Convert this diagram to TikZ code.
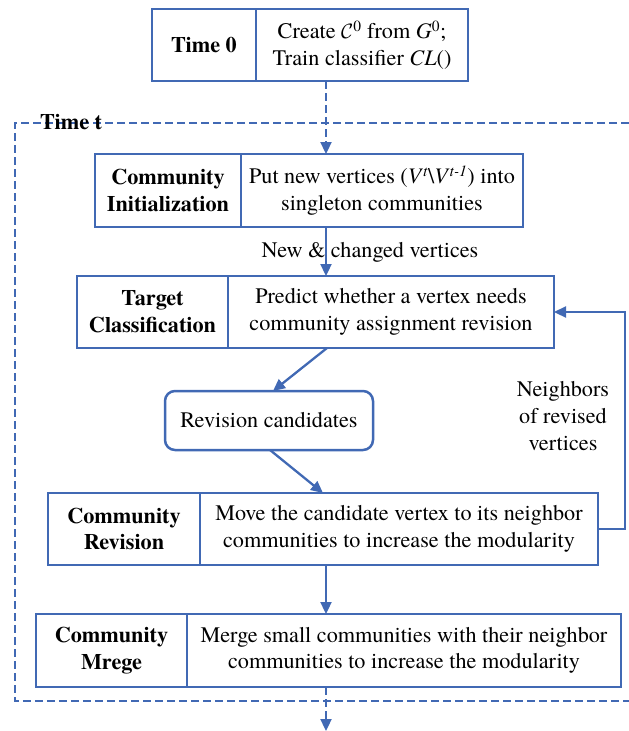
\documentclass[tikz,border=0pt]{standalone}
\usepackage{fontspec}
\setmainfont{TeX Gyre Termes}
\usetikzlibrary{arrows.meta}
\definecolor{fblue}{RGB}{65,105,180}
\begin{document}
\begin{tikzpicture}[x=1pt,y=-1pt,
  font=\fontsize{22.2}{26.6}\selectfont,
  cell/.style={draw=fblue, line width=2.5pt, inner sep=0pt, outer sep=0pt, align=center, minimum height=72pt},
  hcell/.style={cell, font=\fontsize{22.2}{26.6}\selectfont\bfseries},
  conn/.style={draw=fblue, line width=2.3pt, -{Triangle[length=12pt,width=11pt]}},
  dconn/.style={conn, dash pattern=on 8pt off 4pt},
  frame/.style={draw=fblue, line width=2.2pt, dash pattern=on 8pt off 4pt}]
\useasboundingbox (0,0) rectangle (629,731);

% dashed frame
\coordinate (ftr) at (629,123);
\coordinate (ftl) at (15,123);
\coordinate (fbl) at (15,701);
\coordinate (fbr) at (629,701);
\draw[frame] (ftr) -- (ftl) -- (fbl) -- (fbr);
\node[anchor=base west, inner sep=0pt, font=\fontsize{22.2}{26.6}\selectfont\bfseries] (tt) at (40,129) {Time t};

% Time 0
\node[hcell, minimum width=104pt] (t0l) at (204,45) {Time 0};
\node[cell, minimum width=212pt] (t0r) at (362,45) {Create $\mathcal{C}$\textsuperscript{0} from \textit{G}\textsuperscript{0};\\Train classifier \textit{CL}()};

% Community Initialization
\node[hcell, minimum width=146pt, minimum height=73pt] (cil) at (168,190.5) {Community\\Initialization};
\node[cell, minimum width=282pt, minimum height=73pt] (cir) at (382,190.5) {Put new vertices (\textit{V}\textsuperscript{\textit{t}}\textbackslash\textit{V}\textsuperscript{\textit{t-1}}) into\\singleton communities};

% Target Classification
\node[hcell, minimum width=151pt] (tcl) at (152.5,312) {Target\\Classification};
\node[cell, minimum width=326pt] (tcr) at (391,312) {Predict whether a vertex needs\\community assignment revision};

% Revision candidates
\node[cell, rounded corners=10pt, minimum width=208pt, minimum height=59pt] (rc) at (269,420.5) {Revision candidates};

% Community Revision
\node[hcell, minimum width=152pt] (crl) at (124,529) {Community\\Revision};
\node[cell, minimum width=398pt] (crr) at (399,529) {Move the candidate vertex to its neighbor\\communities to increase the modularity};

% Community Merge
\node[hcell, minimum width=151pt, minimum height=73pt] (cml) at (111.5,650.5) {Community\\Mrege};
\node[cell, minimum width=434pt, minimum height=73pt] (cmr) at (404,650.5) {Merge small communities with their neighbor\\communities to increase the modularity};

% labels
\node[inner sep=0pt] (lnew) at (370,252) {New \& changed vertices};
\node[inner sep=0pt, align=center] (lnb) at (563,416) {Neighbors\\of revised\\vertices};

% connectors
\coordinate (mx) at (326,0);
\coordinate (bot) at (326,731);
\coordinate (fbx) at (625,0);
\draw[dconn] (t0r.south -| mx) -- (cir.north -| mx);
\draw[conn] (cir.south -| mx) -- (tcr.north -| mx);
\draw[conn] ([xshift=-64pt]tcr.south) -- ([xshift=4pt]rc.north);
\draw[conn] ([xshift=1pt]rc.south) -- ([xshift=-76pt]crr.north);
\draw[conn] (crr.south -| mx) -- (cmr.north -| mx);
\draw[dconn] (cmr.south -| mx) -- (bot);
\draw[conn] (crr.east) -- (crr.east -| fbx) -- (tcr.east -| fbx) -- (tcr.east);
\end{tikzpicture}
\end{document}
